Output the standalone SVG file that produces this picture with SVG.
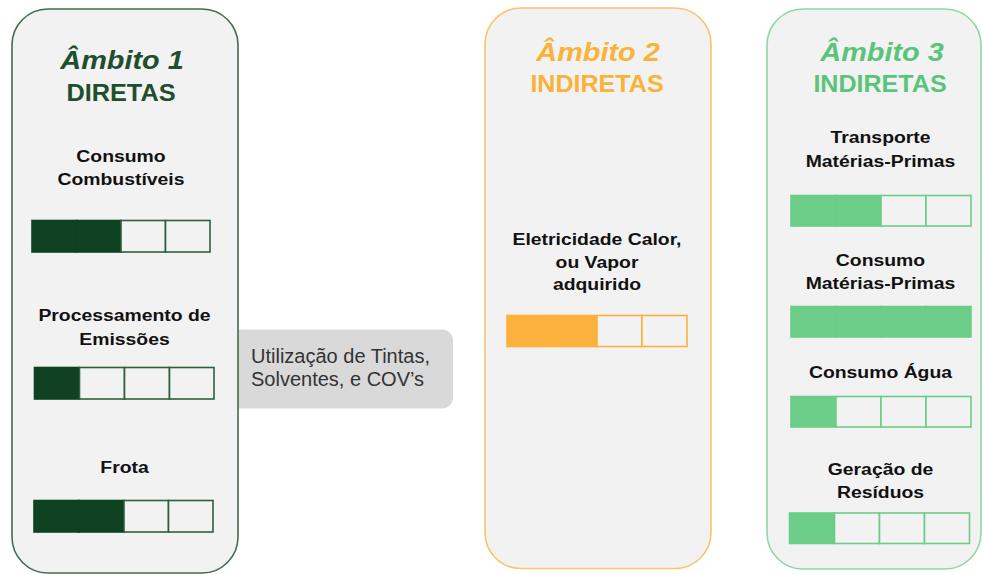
<svg xmlns="http://www.w3.org/2000/svg" width="982" height="574" viewBox="0 0 982 574">
<style>
.panel{fill:#f2f2f2;stroke-width:1.6}
.ttl{font-family:"Liberation Sans",Arial,sans-serif;font-weight:bold;font-style:italic;font-size:26px;text-anchor:middle}
.sub{font-family:"Liberation Sans",Arial,sans-serif;font-weight:bold;font-size:23px;text-anchor:middle}
.lbl{font-family:"Liberation Sans",Arial,sans-serif;font-weight:bold;font-size:17px;text-anchor:middle;fill:#111}
.note{font-family:"Liberation Sans",Arial,sans-serif;font-size:20px;fill:#333}
.c1{fill:#f2f2f2;stroke:#2c5f3c;stroke-width:1.6}
.f1{fill:#0e4220;stroke:#0e4220;stroke-width:1.6}
.c2{fill:#f2f2f2;stroke:#fbb13c;stroke-width:1.6}
.f2{fill:#fbb13c;stroke:#fbb13c;stroke-width:1.6}
.c3{fill:#f2f2f2;stroke:#6bcd87;stroke-width:1.6}
.f3{fill:#6bcd87;stroke:#6bcd87;stroke-width:1.6}
</style>
<rect width="982" height="574" fill="#ffffff"/>
<g id="connectors"></g>
<g id="note-cov">
<path d="M236 329.5 H442 A11 11 0 0 1 453 340.5 V397.5 A11 11 0 0 1 442 408.5 H236 Z" fill="#d9d9d9"/>
<text class="note" x="251" y="362.5">Utilização de Tintas,</text>
<text class="note" x="251" y="385.5">Solventes, e COV’s</text>
</g>
<g id="ambito1">
<rect class="panel" x="12" y="9" width="226" height="564" rx="36" ry="36" stroke="#3e6f4c"/>
<text class="ttl" fill="#1f4e2f" transform="translate(122 69) scale(1.11 1)">Âmbito 1</text>
<text class="sub" fill="#1f4e2f" transform="translate(121 100.5) scale(1.1 1)">DIRETAS</text>
<text class="lbl" transform="translate(121 162) scale(1.14 1)">Consumo</text>
<text class="lbl" transform="translate(121 185) scale(1.14 1)">Combustíveis</text>
<g>
<rect class="f1" x="32" y="220.5" width="44.5" height="31.5"/>
<rect class="f1" x="76.5" y="220.5" width="44.5" height="31.5"/>
<rect class="c1" x="121" y="220.5" width="44.5" height="31.5"/>
<rect class="c1" x="165.5" y="220.5" width="44.5" height="31.5"/>
</g>
<text class="lbl" transform="translate(124.5 320.5) scale(1.14 1)">Processamento de</text>
<text class="lbl" transform="translate(124.5 345) scale(1.14 1)">Emissões</text>
<g>
<rect class="f1" x="34.5" y="367.5" width="45" height="31.5"/>
<rect class="c1" x="79.5" y="367.5" width="45" height="31.5"/>
<rect class="c1" x="124.5" y="367.5" width="45" height="31.5"/>
<rect class="c1" x="169.5" y="367.5" width="44.5" height="31.5"/>
</g>
<text class="lbl" transform="translate(124.5 473) scale(1.14 1)">Frota</text>
<g>
<rect class="f1" x="34" y="500.5" width="45" height="31.5"/>
<rect class="f1" x="79" y="500.5" width="45" height="31.5"/>
<rect class="c1" x="124" y="500.5" width="44.5" height="31.5"/>
<rect class="c1" x="168.5" y="500.5" width="44.5" height="31.5"/>
</g>
</g>
<g id="ambito2">
<rect class="panel" x="485" y="8" width="226" height="560.5" rx="36" ry="36" stroke="#f9c46c"/>
<text class="ttl" fill="#f9b23a" transform="translate(598 61) scale(1.11 1)">Âmbito 2</text>
<text class="sub" fill="#f9b23a" transform="translate(597 91.5) scale(1.09 1)">INDIRETAS</text>
<text class="lbl" transform="translate(597 245) scale(1.14 1)">Eletricidade Calor,</text>
<text class="lbl" transform="translate(597 267.5) scale(1.14 1)">ou Vapor</text>
<text class="lbl" transform="translate(597 289.5) scale(1.14 1)">adquirido</text>
<g>
<rect class="f2" x="507" y="315.5" width="45" height="31"/>
<rect class="f2" x="552" y="315.5" width="45" height="31"/>
<rect class="c2" x="597" y="315.5" width="45" height="31"/>
<rect class="c2" x="642" y="315.5" width="45" height="31"/>
</g>
</g>
<g id="ambito3">
<rect class="panel" x="767" y="9" width="214" height="560" rx="36" ry="36" stroke="#8fd8a4"/>
<text class="ttl" fill="#5ac47a" transform="translate(882 61) scale(1.11 1)">Âmbito 3</text>
<text class="sub" fill="#5ac47a" transform="translate(880 91.5) scale(1.09 1)">INDIRETAS</text>
<text class="lbl" transform="translate(880.5 143) scale(1.14 1)">Transporte</text>
<text class="lbl" transform="translate(880.5 166.5) scale(1.14 1)">Matérias-Primas</text>
<g>
<rect class="f3" x="791" y="195.5" width="45" height="30.5"/>
<rect class="f3" x="836" y="195.5" width="45" height="30.5"/>
<rect class="c3" x="881" y="195.5" width="45" height="30.5"/>
<rect class="c3" x="926" y="195.5" width="45" height="30.5"/>
</g>
<text class="lbl" transform="translate(880.5 266) scale(1.14 1)">Consumo</text>
<text class="lbl" transform="translate(880.5 289) scale(1.14 1)">Matérias-Primas</text>
<g>
<rect class="f3" x="791" y="306.5" width="45" height="30.5"/>
<rect class="f3" x="836" y="306.5" width="45" height="30.5"/>
<rect class="f3" x="881" y="306.5" width="45" height="30.5"/>
<rect class="f3" x="926" y="306.5" width="45" height="30.5"/>
</g>
<text class="lbl" transform="translate(880.5 378) scale(1.14 1)">Consumo Água</text>
<g>
<rect class="f3" x="791" y="396.5" width="45" height="30.5"/>
<rect class="c3" x="836" y="396.5" width="45" height="30.5"/>
<rect class="c3" x="881" y="396.5" width="45" height="30.5"/>
<rect class="c3" x="926" y="396.5" width="45" height="30.5"/>
</g>
<text class="lbl" transform="translate(880.5 475) scale(1.14 1)">Geração de</text>
<text class="lbl" transform="translate(880.5 498) scale(1.14 1)">Resíduos</text>
<g>
<rect class="f3" x="789.5" y="513" width="45" height="30.5"/>
<rect class="c3" x="834.5" y="513" width="45" height="30.5"/>
<rect class="c3" x="879.5" y="513" width="45" height="30.5"/>
<rect class="c3" x="924.5" y="513" width="45" height="30.5"/>
</g>
</g>
</svg>
